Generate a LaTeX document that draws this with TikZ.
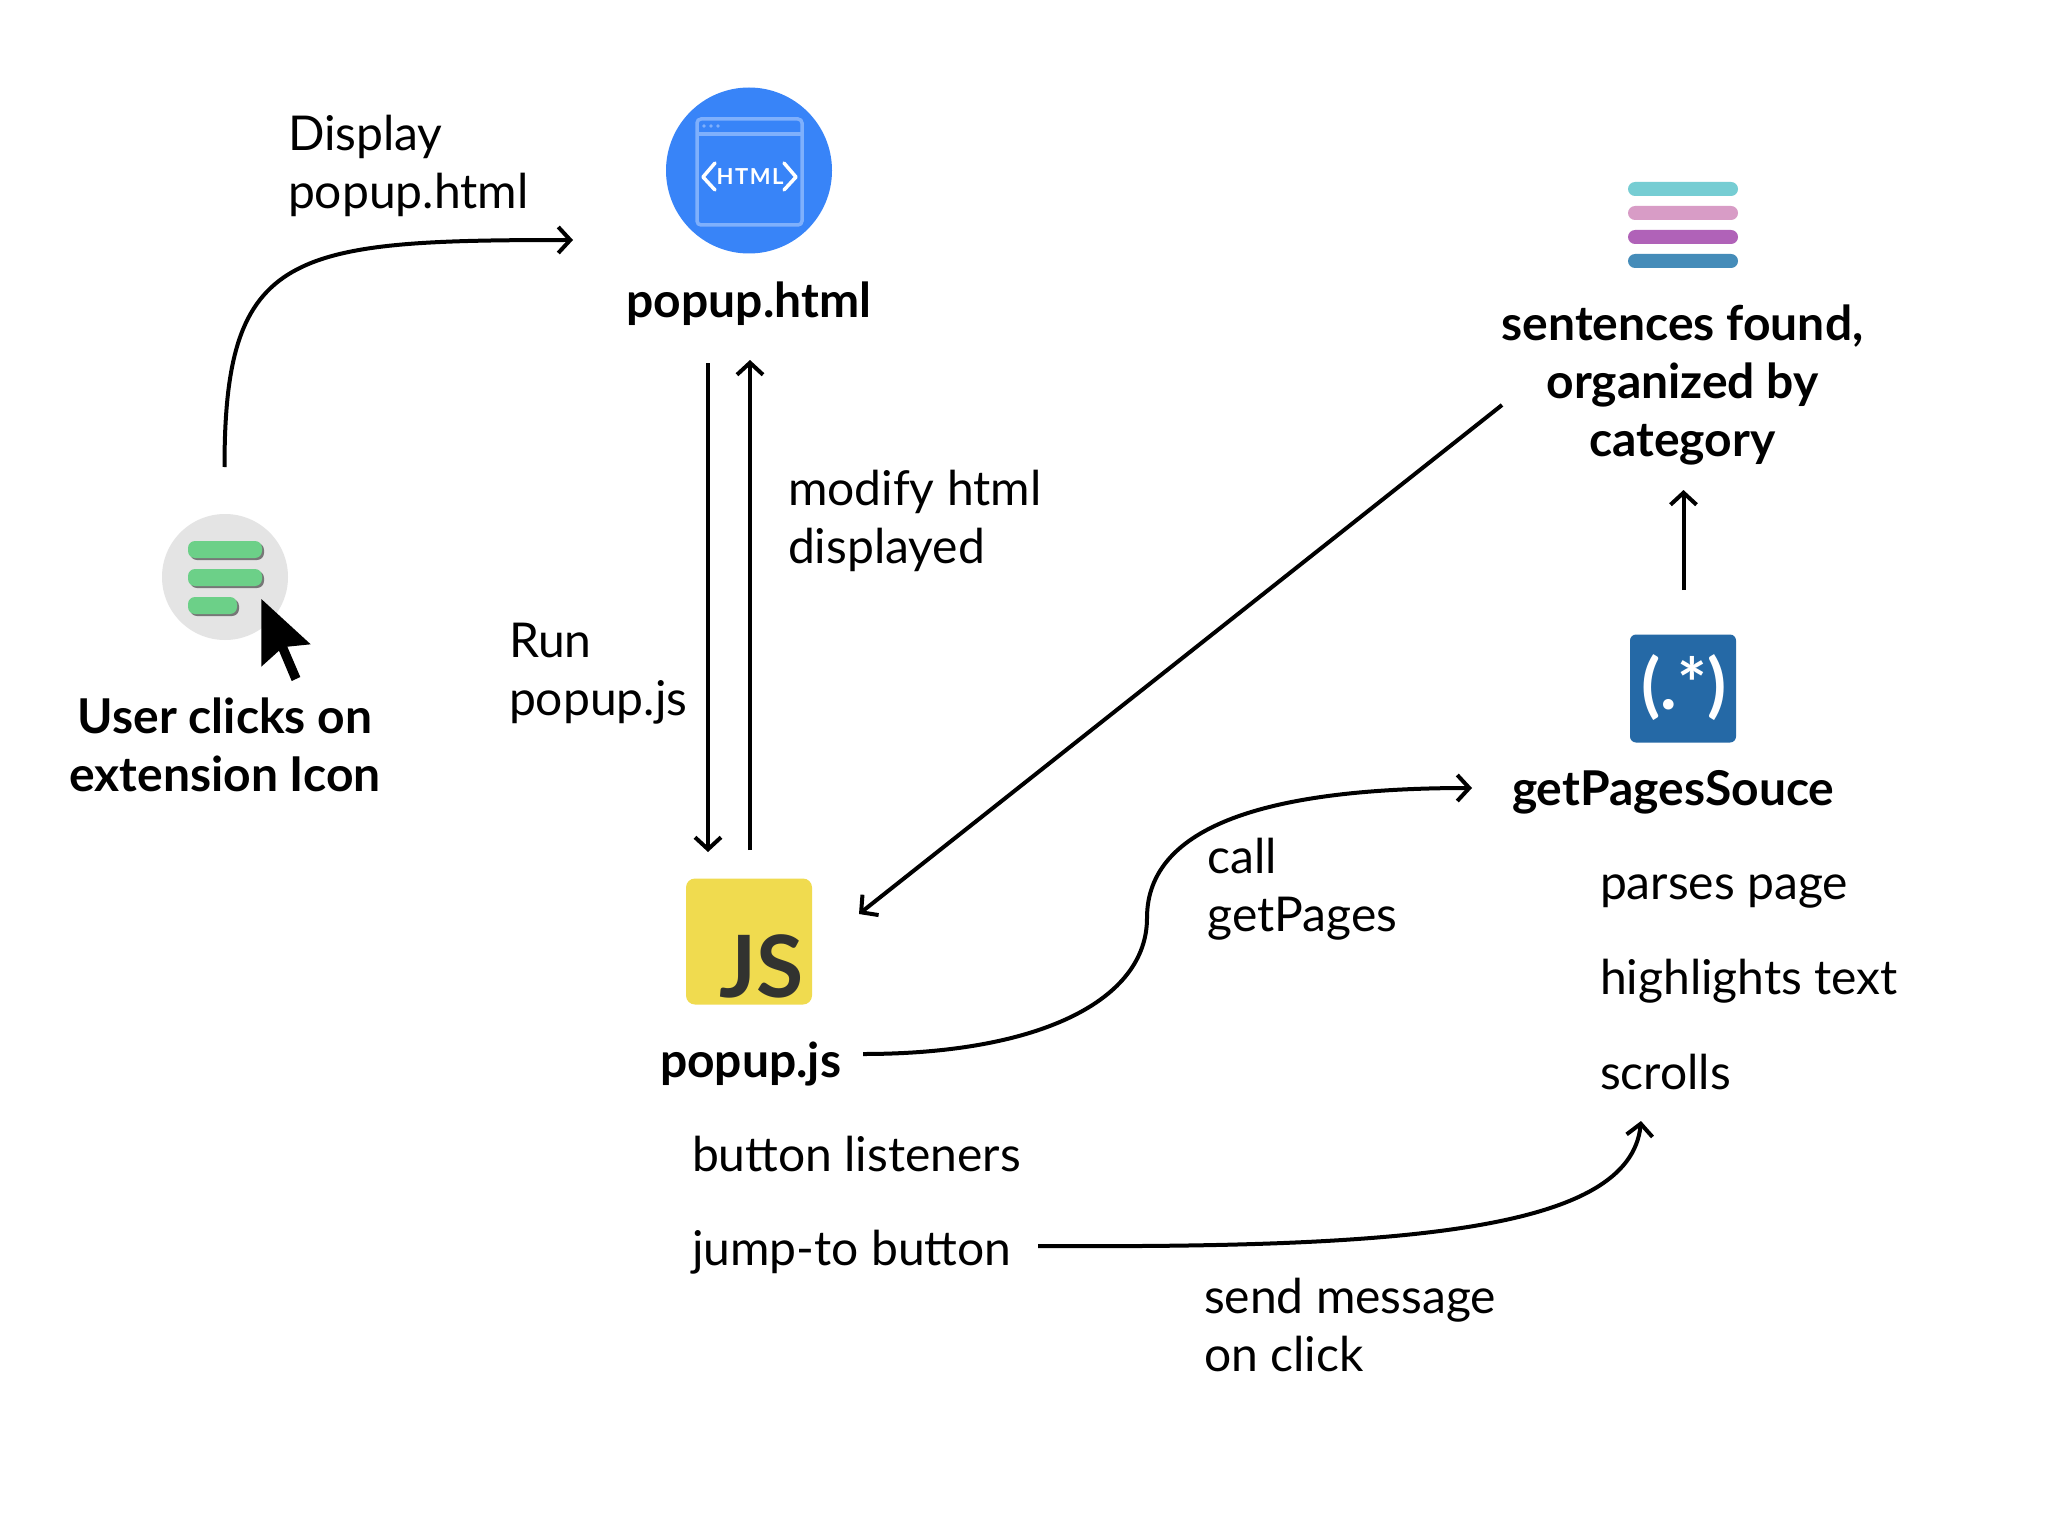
\documentclass[tikz,border=0pt]{standalone}
\usepackage{fontspec}
\setmainfont{Lato}
\usetikzlibrary{arrows.meta}
\definecolor{htmlblue}{HTML}{3884F8}
\definecolor{htmlline}{HTML}{7FB0FC}
\definecolor{iconback}{HTML}{E4E4E4}
\definecolor{bargreen}{HTML}{6CD088}
\definecolor{barshadow}{HTML}{777777}
\definecolor{jsyellow}{HTML}{F0DB4F}
\definecolor{jsdark}{HTML}{323330}
\definecolor{regexblue}{HTML}{2569A6}
\definecolor{listA}{HTML}{76CDD3}
\definecolor{listB}{HTML}{D89CC6}
\definecolor{listC}{HTML}{B062B8}
\definecolor{listD}{HTML}{458CB9}
\tikzset{
  x=1pt,y=-1pt,
  lbl/.style={inner sep=0pt,outer sep=0pt,anchor=base west,align=left,font=\fontsize{48}{58}\selectfont},
  ttl/.style={inner sep=0pt,outer sep=0pt,anchor=base,align=center,font=\bfseries\fontsize{48}{58}\selectfont},
  conn/.style={draw=black,line width=4pt,-{Straight Barb[length=12pt,width=26pt,line width=4pt]}},
  pill/.style={rounded corners=7pt},
  glyph/.style={inner sep=0pt,outer sep=0pt}
}
\begin{document}
\begin{tikzpicture}
\path[use as bounding box,fill=white] (0,0) rectangle (2056,1514);

% user icon
\node[circle,fill=iconback,minimum size=126pt,inner sep=0pt] (usericon) at (225,577) {};
\fill[barshadow,pill] (190,543) rectangle (264,560);
\fill[barshadow,pill] (190,571) rectangle (264,588);
\fill[barshadow,pill] (190,599) rectangle (239,616);
\fill[bargreen,pill] (188,541) rectangle (262,558);
\fill[bargreen,pill] (188,569) rectangle (262,586);
\fill[bargreen,pill] (188,597) rectangle (237,614);
\fill[black] (261.3,599) -- (310.7,644.3) -- (287.3,646.7) -- (300.3,677) -- (291.7,681) -- (279,650.7) -- (261.3,666.7) -- cycle;
\node[ttl] (usertext) at (225,791) {User clicks on\\extension Icon};

% html icon
\node[circle,fill=htmlblue,minimum size=166pt,inner sep=0pt] (htmlicon) at (749,170.5) {};
\draw[htmlline,line width=3.5pt,rounded corners=4pt] (697,119) rectangle (802,225);
\draw[htmlline,line width=3.5pt] (697,134) -- (802,134);
\fill[htmlline] (704,126) circle (1.8pt) (711,126) circle (1.8pt) (718,126) circle (1.8pt);
\draw[white,line width=3.5pt,line cap=round,line join=round] (715,163) -- (703,177) -- (715,190);
\draw[white,line width=3.5pt,line cap=round,line join=round] (784,163) -- (796,177) -- (784,190);
\node[glyph,text=white,font=\bfseries\fontsize{22}{22}\addfontfeature{LetterSpace=7}\selectfont] (htmltag) at (750,177) {HTML};
\node[ttl] (htmltext) at (749,317) {popup.html};

% js icon
\node[fill=jsyellow,rounded corners=9pt,minimum size=126pt,inner sep=0pt] (jsicon) at (749,941.5) {};
\node[glyph,text=jsdark,anchor=base east,font=\bfseries\fontsize{86}{86}\selectfont] (jstag) at (804,997) {JS};
\node[ttl,anchor=base west] (jstext) at (660,1077) {popup.js};

% list icon
\fill[listA,pill] (1628,182) rectangle (1738,196);
\fill[listB,pill] (1628,206) rectangle (1738,220);
\fill[listC,pill] (1628,230) rectangle (1738,244);
\fill[listD,pill] (1628,254) rectangle (1738,268);
\node[ttl] (listtext) at (1682.5,456) {sentences found,\\organized by\\category};

% regex icon
\node[fill=regexblue,rounded corners=6pt,minimum width=106pt,minimum height=108pt,inner sep=0pt] (regexicon) at (1683,688.5) {};
\node[glyph,text=white,font=\bfseries\fontsize{70}{70}\selectfont] (regextag) at (1684,688) {(.*)};
\node[ttl,anchor=base west] (regextext) at (1512,805) {getPagesSouce};

% labels
\node[lbl] (ldisplay) at (288,209) {Display\\popup.html};
\node[lbl] (lmodify) at (788,563) {modify html\\displayed};
\node[lbl] (lrun) at (509,715) {Run\\popup.js};
\node[lbl] (lcall) at (1207.5,931) {call\\getPages};
\node[lbl] (lparses) at (1600,899) {parses page};
\node[lbl] (lhigh) at (1600,994) {highlights text};
\node[lbl] (lscroll) at (1600,1089) {scrolls};
\node[lbl] (lbutton) at (692,1171) {button listeners};
\node[lbl] (ljump) at (692,1265) {jump-to button};
\node[lbl] (lsend) at (1204,1371) {send message\\on click};

% connector ends
\coordinate (a1s) at (224.5,467);
\coordinate (a1e) at (573,240);
\coordinate (a2s) at (708,363);
\coordinate (a2e) at (708,852);
\coordinate (a3s) at (750,850);
\coordinate (a3e) at (750,360);
\coordinate (a4s) at (1502,405);
\coordinate (a4e) at (859,914);
\coordinate (a5s) at (1683.5,590);
\coordinate (a5e) at (1683.5,490);
\coordinate (a6s) at (863,1054);
\coordinate (a6m) at (1147,918);
\coordinate (a6e) at (1472,788);
\coordinate (a7s) at (1038,1246);
\coordinate (a7e) at (1641,1121);

\draw[conn] (a1s) .. controls (224.5,250) and (290,240) .. (a1e);
\draw[conn] (a2s) -- (a2e);
\draw[conn] (a3s) -- (a3e);
\draw[conn] (a4s) -- (a4e);
\draw[conn] (a5s) -- (a5e);
\draw[conn] (a6s) .. controls (1040,1054) and (1147,1000) .. (a6m) .. controls (1147,825) and (1270,788) .. (a6e);
\draw[conn] (a7s) .. controls (1400,1248) and (1630,1232) .. (a7e);
\end{tikzpicture}
\end{document}
